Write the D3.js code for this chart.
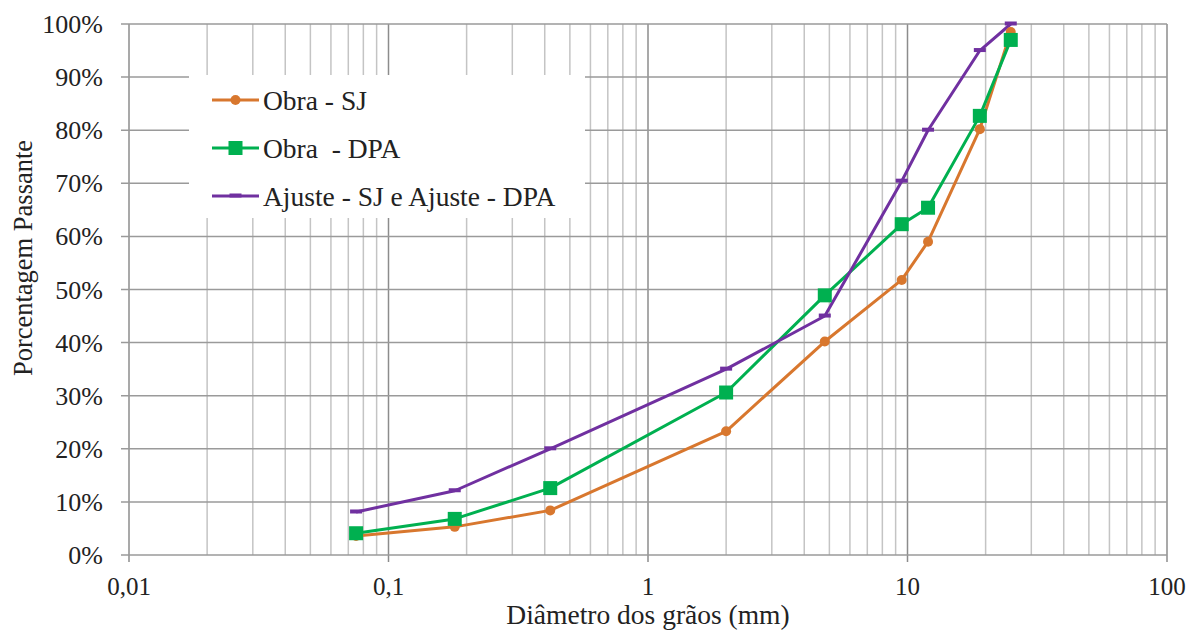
<!DOCTYPE html>
<html>
<head>
<meta charset="utf-8">
<script src="https://cdn.jsdelivr.net/npm/d3@7"></script>
<style>
  body { margin: 0; background: #fff; }
</style>
</head>
<body>
<div id="graph"></div>
<script>
// Data (diameter in mm, % passing)
const diameters = [0.075, 0.18, 0.42, 2.0, 4.8, 9.5, 12, 19, 25]
const obraSJ = [3.6, 5.3, 8.4, 23.3, 40.2, 51.8, 59, 80.2, 98.5]
const obraDPA = [4.1, 6.8, 12.6, 30.6, 48.9, 62.3, 65.4, 82.7, 97]
const ajuste = [8.1, 12.1, 20, 35, 45, 70.4, 80, 95, 100]
const seriesNames = ['Obra - SJ', 'Obra \u00a0- DPA', 'Ajuste - SJ e Ajuste - DPA']
const seriesColors = ['#D8772E', '#00B050', '#7030A0']
const xTickLabels = ['0,01', '0,1', '1', '10', '100']
const yTicks = [0, 10, 20, 30, 40, 50, 60, 70, 80, 90, 100]

const W = 1200, H = 630
const margins = { top: 24, left: 129, right: 33, bottom: 75 }
const width = W - margins.left - margins.right
const height = H - margins.top - margins.bottom

const svg = d3.select('#graph').append('svg')
  .attr('width', W).attr('height', H)

const g = svg.append('g')
  .attr('transform', `translate(${margins.left}, ${margins.top})`)

const x = d3.scaleLog().domain([0.01, 100]).range([0, width])
const y = d3.scaleLinear().domain([0, 100]).range([height, 0])

// minor + major vertical grid
const minor = []
for (let e = -2; e < 2; e++) {
  for (let k = 2; k <= 9; k++) minor.push(k * Math.pow(10, e))
}
const major = [0.01, 0.1, 1, 10, 100]

g.selectAll('.vminor').data(minor).enter().append('line')
  .attr('x1', d => x(d)).attr('x2', d => x(d))
  .attr('y1', 0).attr('y2', height)
  .attr('stroke', '#c4c4c4').attr('stroke-width', 1.5)

g.selectAll('.vmajor').data(major).enter().append('line')
  .attr('x1', d => x(d)).attr('x2', d => x(d))
  .attr('y1', 0).attr('y2', height + 7)
  .attr('stroke', '#8c8c8c').attr('stroke-width', 1.5)

g.selectAll('.hgrid').data(yTicks).enter().append('line')
  .attr('x1', -8).attr('x2', width)
  .attr('y1', d => y(d)).attr('y2', d => y(d))
  .attr('stroke', '#9a9a9a').attr('stroke-width', 1.5)

// legend background (hides grid)
const legend = svg.append('g')
legend.append('rect')
  .attr('x', 189).attr('y', 75).attr('width', 396).attr('height', 143)
  .attr('fill', '#fff')

// series
const allSeries = [obraSJ, obraDPA, ajuste]
const line = d3.line()
  .x((d, i) => x(diameters[i]))
  .y(d => y(d))

function drawMarker(sel, k, cx, cy) {
  if (k === 0) {
    sel.append('circle').attr('cx', cx).attr('cy', cy).attr('r', 5)
      .attr('fill', seriesColors[0])
  } else if (k === 1) {
    sel.append('rect').attr('x', cx - 7).attr('y', cy - 7)
      .attr('width', 14).attr('height', 14).attr('fill', seriesColors[1])
  } else {
    sel.append('rect').attr('x', cx - 6).attr('y', cy - 2.5)
      .attr('width', 12).attr('height', 4).attr('fill', seriesColors[2])
  }
}

allSeries.forEach((vals, k) => {
  g.append('path')
    .datum(vals)
    .attr('fill', 'none')
    .attr('stroke', seriesColors[k])
    .attr('stroke-width', 3)
    .attr('stroke-linejoin', 'round')
    .attr('d', line)
})
allSeries.forEach((vals, k) => {
  const mg = g.append('g')
  vals.forEach((v, i) => drawMarker(mg, k, x(diameters[i]), y(v)))
})

seriesNames.forEach((name, k) => {
  const ly = 100 + k * 48
  legend.append('line')
    .attr('x1', 212).attr('x2', 259).attr('y1', ly).attr('y2', ly)
    .attr('stroke', seriesColors[k]).attr('stroke-width', 3)
  drawMarker(legend, k, 235.5, ly)
})

// all text last, plain placement (anchor done by measuring)
function addText(parent, str, px, py, size, anchor) {
  const t = parent.append('text')
    .attr('x', px).attr('y', py)
    .style('font-family', 'Liberation Serif')
    .style('font-size', size + 'px')
    .attr('fill', '#222')
    .text(str)
  const w = t.node().getComputedTextLength()
  if (anchor === 'end') t.attr('x', px - w)
  if (anchor === 'middle') t.attr('x', px - w / 2)
  return t
}

yTicks.forEach(d => {
  addText(svg, d + '%', margins.left - 26, margins.top + y(d) + 9, 26, 'end')
})
major.forEach((d, i) => {
  addText(svg, xTickLabels[i], margins.left + x(d), margins.top + height + 40, 25, 'middle')
})
addText(svg, 'Diâmetro dos grãos (mm)', margins.left + x(1), 624, 27.5, 'middle')

const yt = svg.append('g').attr('transform', 'translate(32, 258) rotate(-90)')
addText(yt, 'Porcentagem Passante', 0, 0, 26.5, 'middle')

seriesNames.forEach((name, k) => {
  addText(svg, name, 263, 100 + k * 48 + 9.5, 27.5, 'start')
})
</script>
</body>
</html>
